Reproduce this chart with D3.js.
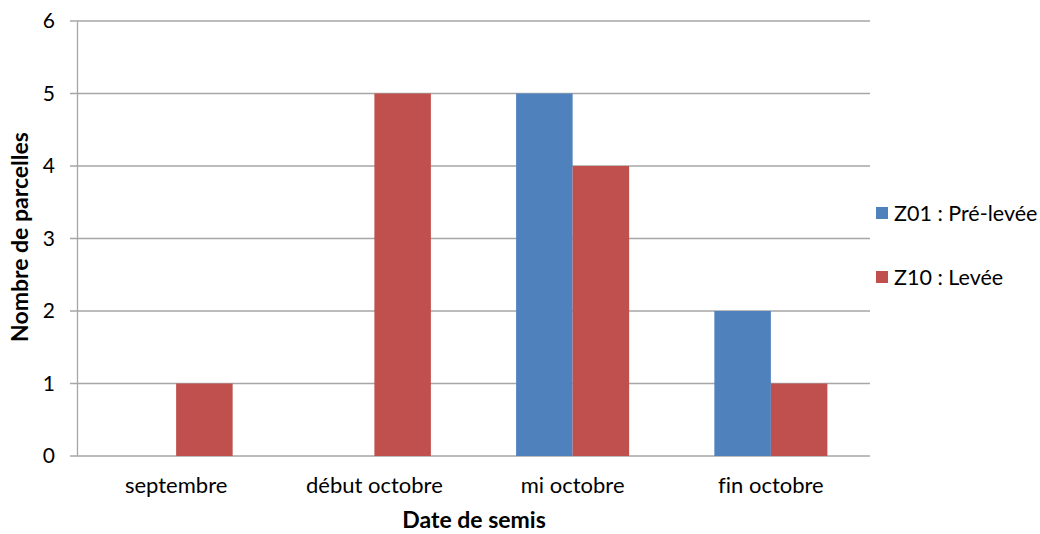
<!DOCTYPE html>
<html>
<head>
<meta charset="utf-8">
<script src="https://cdn.jsdelivr.net/npm/d3@7"></script>
<style>
  body { margin: 0; background: #fff; }
  text { font-family: Lato, "Open Sans", sans-serif; fill: #000; font-variant-ligatures: none; }
</style>
</head>
<body>
<div class="svg"></div>
<script>
const categories = ["septembre", "début octobre", "mi octobre", "fin octobre"];
const seriesNames = ["Z01 : Pré-levée", "Z10 : Levée"];
const preLevee = [0, 0, 5, 2];
const levee = [1, 5, 4, 1];
const yTicks = [0, 1, 2, 3, 4, 5, 6];
const colors = ["#4F81BD", "#C0504D"];

const width = 1040, height = 534;
const plotLeft = 77, plotRight = 870, plotTop = 21, plotBottom = 456;

let svg = d3.select('.svg').append('svg').attr('width', width).attr('height', height);

let scaleX = d3.scaleBand().domain(categories).range([plotLeft, plotRight]);
let scaleSeries = d3.scaleBand().domain(seriesNames).range([0, scaleX.bandwidth()]).paddingOuter(0.754);
let scaleY = d3.scaleLinear().domain([0, 6]).range([plotBottom, plotTop]);

// grid lines
svg.append('g').selectAll('line').data(yTicks).enter().append('line')
  .attr('x1', plotLeft - 7).attr('x2', plotRight)
  .attr('y1', d => scaleY(d)).attr('y2', d => scaleY(d))
  .attr('stroke', '#a6a6a6').attr('stroke-width', 1.3);

// y axis
let axisY = d3.axisLeft(scaleY).tickValues(yTicks).tickFormat(d3.format('d')).tickSize(0).tickPadding(22);
let gy = svg.append('g').attr('transform', 'translate(' + plotLeft + ',0)').call(axisY);
gy.select('.domain').attr('stroke', '#a6a6a6').attr('stroke-width', 1.3);
gy.selectAll('text').style('font-size', '21px').style('font-family', 'Lato, sans-serif');

// bars
const series = [preLevee, levee];
let groups = svg.append('g').selectAll('g').data(categories).enter().append('g')
  .attr('transform', d => 'translate(' + scaleX(d) + ',0)');
groups.selectAll('rect')
  .data((c, i) => series.map((s, k) => ({ name: seriesNames[k], value: s[i], k: k })))
  .enter().append('rect')
  .attr('x', d => scaleSeries(d.name))
  .attr('width', scaleSeries.bandwidth())
  .attr('y', d => scaleY(d.value))
  .attr('height', d => scaleY(0) - scaleY(d.value))
  .attr('fill', d => colors[d.k]);

// x axis
let axisX = d3.axisBottom(scaleX).tickSize(0).tickPadding(21);
let gx = svg.append('g').attr('transform', 'translate(0,' + plotBottom + ')').call(axisX);
gx.select('.domain').remove();
gx.selectAll('text').style('font-size', '22px').style('font-family', 'Lato, sans-serif');

// axis titles
svg.append('text').attr('x', 474).attr('y', 528)
  .attr('text-anchor', 'middle').style('font-size', '23px').style('font-weight', 'bold')
  .text('Date de semis');
svg.append('text').attr('transform', 'translate(28,237) rotate(-90)')
  .attr('text-anchor', 'middle').style('font-size', '23px').style('font-weight', 'bold')
  .text('Nombre de parcelles');

// legend
let legend = svg.append('g').selectAll('g').data(seriesNames).enter().append('g')
  .attr('transform', (d, i) => 'translate(876,' + (213 + i * 64) + ')');
legend.append('rect').attr('x', 0).attr('y', -6).attr('width', 12).attr('height', 12)
  .attr('fill', (d, i) => colors[i]);
legend.append('text').attr('x', 18).attr('y', 8).style('font-size', '21.5px').text(d => d);
</script>
</body>
</html>
